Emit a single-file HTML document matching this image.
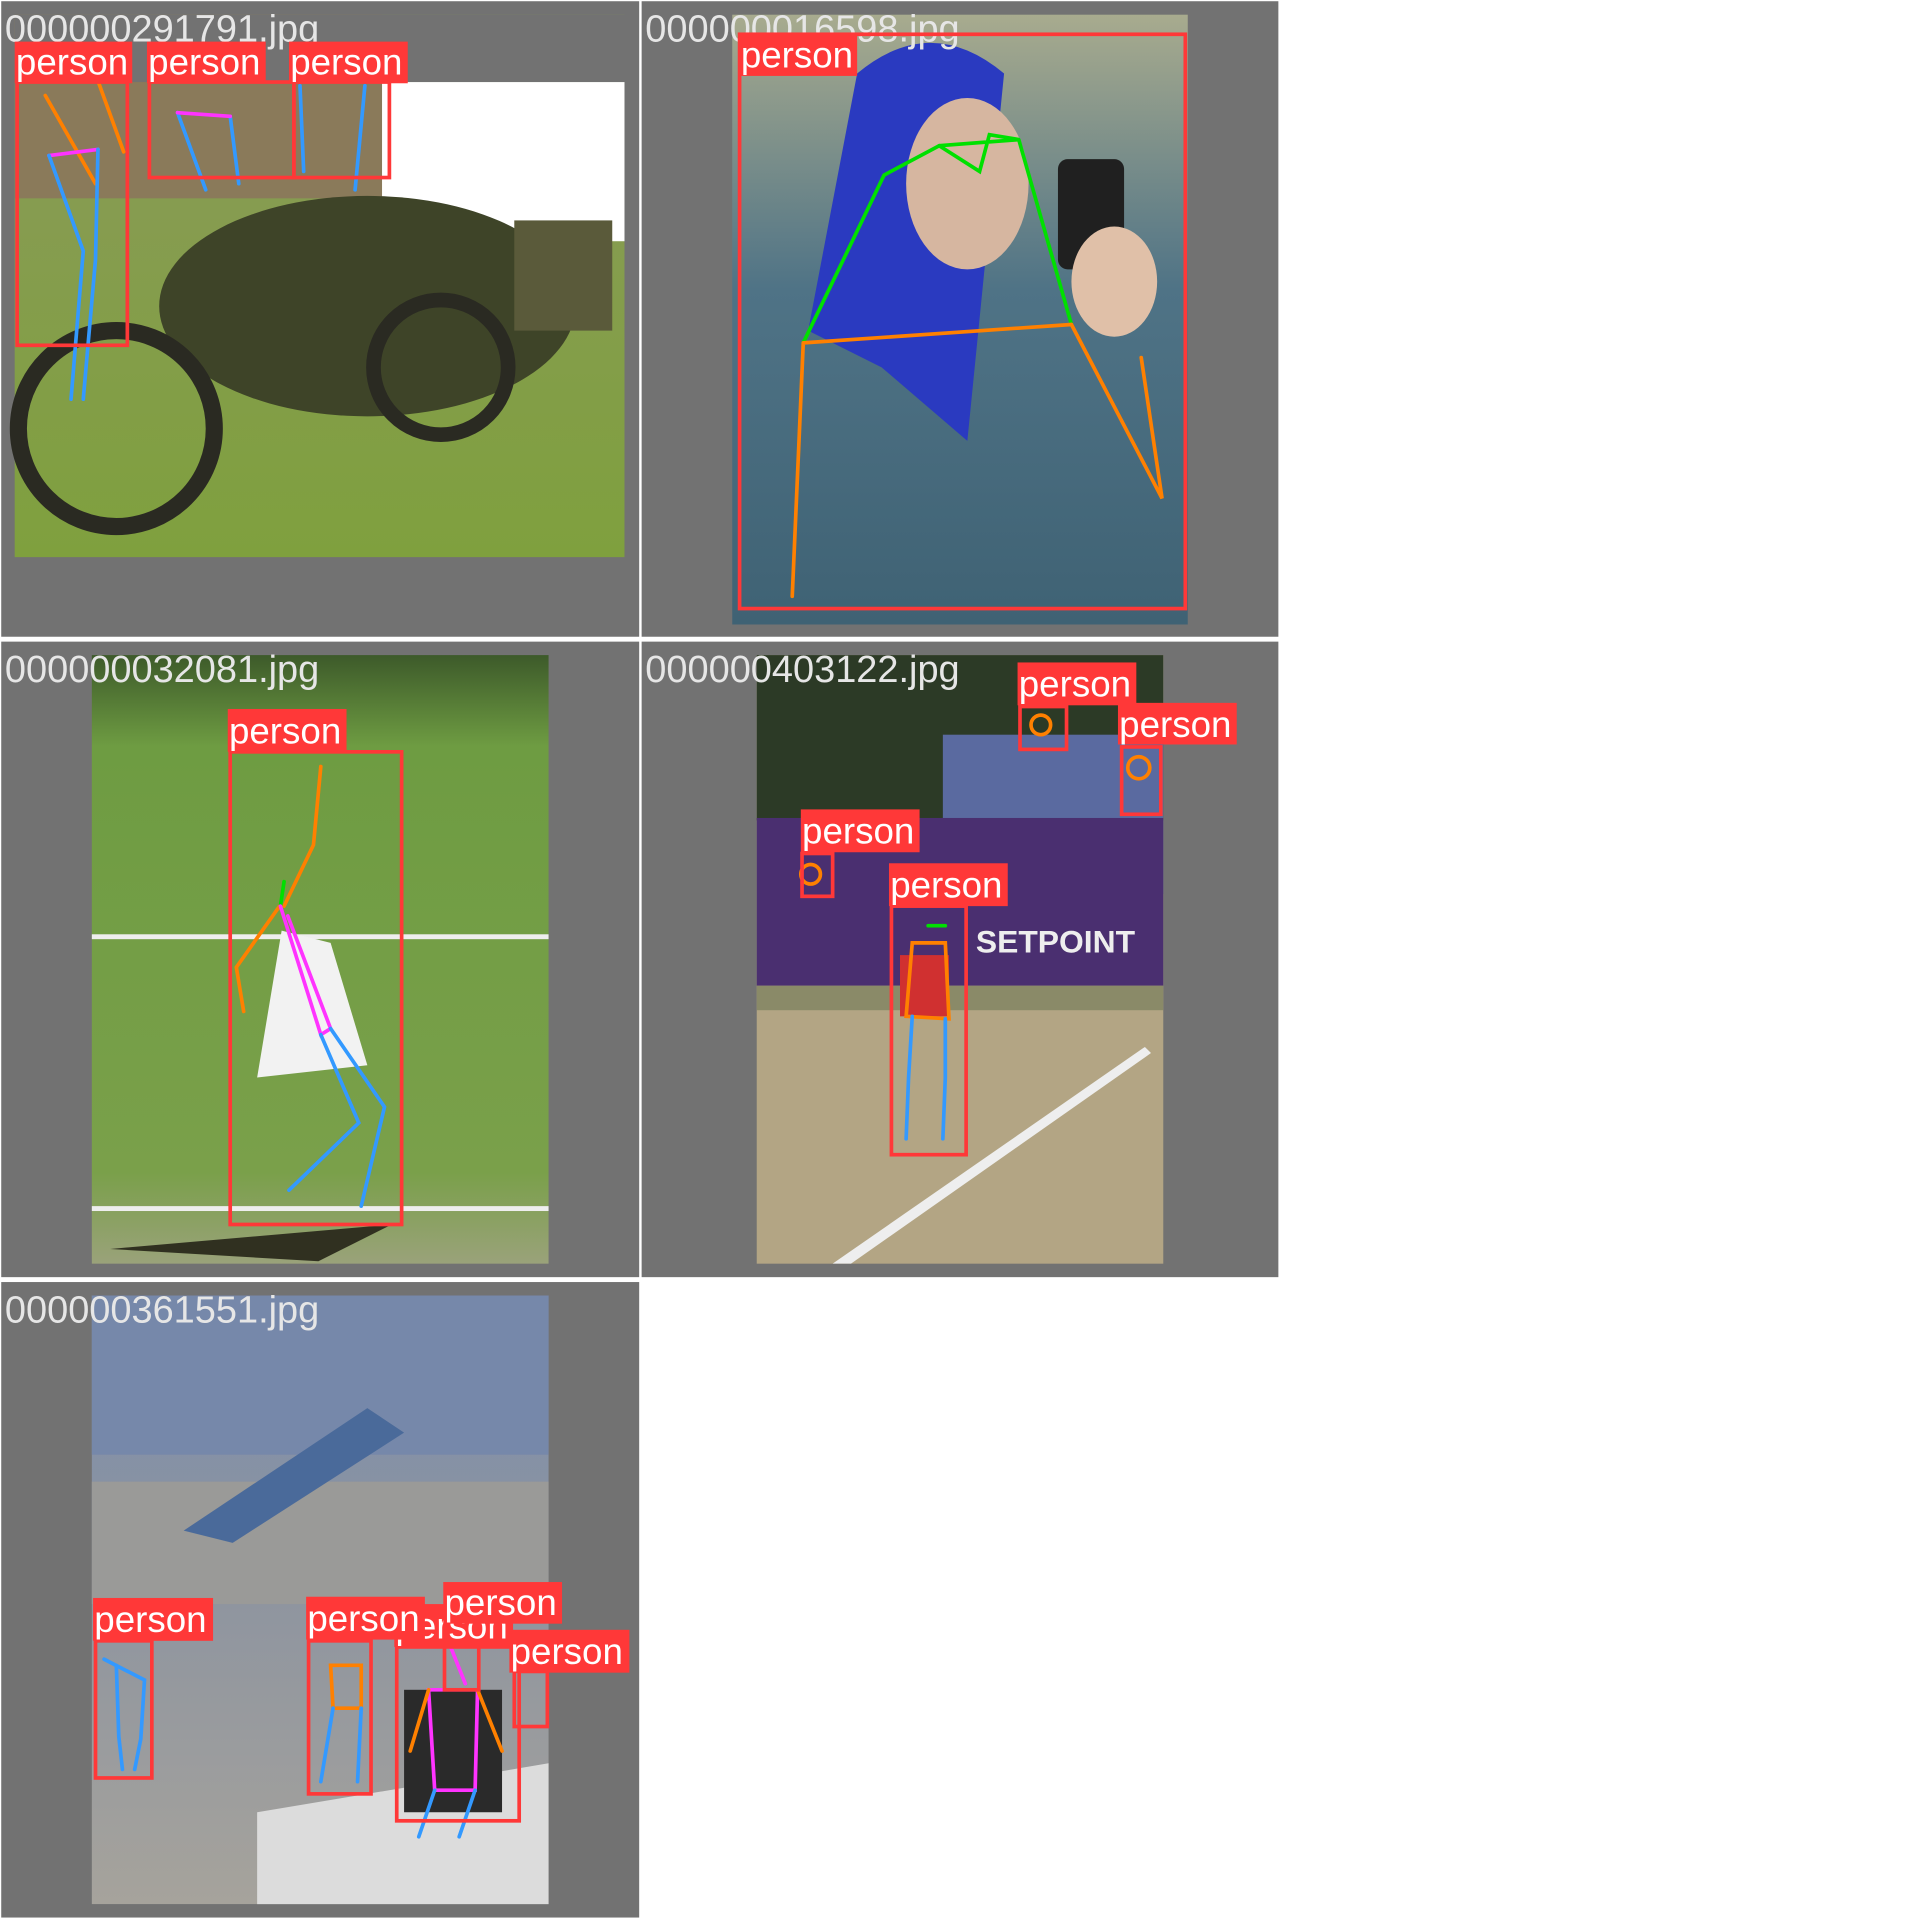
<!DOCTYPE html>
<html><head><meta charset="utf-8"><style>
html,body{margin:0;padding:0;background:#fff;}
svg{display:block;}
text{font-family:"Liberation Sans",sans-serif;}
</style></head><body>
<svg width="1920" height="1920" viewBox="0 0 1568 1568" xmlns="http://www.w3.org/2000/svg">
<defs>
<linearGradient id="g1" x1="0" y1="0" x2="0" y2="1"><stop offset="0" stop-color="#8a9a5a"/><stop offset="1" stop-color="#7fa03e"/></linearGradient>
<linearGradient id="g2" x1="0" y1="0" x2="0" y2="1"><stop offset="0" stop-color="#a8ab8e"/><stop offset="0.45" stop-color="#4f7386"/><stop offset="1" stop-color="#3f6274"/></linearGradient>
<linearGradient id="g3" x1="0" y1="0" x2="0" y2="1"><stop offset="0" stop-color="#3d5a2a"/><stop offset="0.15" stop-color="#6e9c42"/><stop offset="0.85" stop-color="#7aa04a"/><stop offset="1" stop-color="#9aa27a"/></linearGradient>
<linearGradient id="g5" x1="0" y1="0" x2="0" y2="1"><stop offset="0" stop-color="#7d90b0"/><stop offset="0.4" stop-color="#8a92a0"/><stop offset="1" stop-color="#a6a39c"/></linearGradient>
</defs>
<rect x="1" y="1" width="521" height="519" fill="#727272"/>
<rect x="524" y="1" width="520" height="519" fill="#727272"/>
<rect x="1" y="524" width="521" height="519" fill="#727272"/>
<rect x="524" y="524" width="520" height="519" fill="#727272"/>
<rect x="1" y="1047" width="521" height="519" fill="#727272"/>

<g>
<rect x="12" y="12" width="498" height="443" fill="url(#g1)"/>
<rect x="12" y="12" width="300" height="150" fill="#8a7a5a"/>
<rect x="312" y="67" width="198" height="130" fill="#ffffff"/>
<rect x="12" y="12" width="498" height="55" fill="#727272"/>
<ellipse cx="300" cy="250" rx="170" ry="90" fill="#3e4428"/>
<circle cx="95" cy="350" r="80" fill="none" stroke="#2a2a22" stroke-width="14"/>
<circle cx="360" cy="300" r="55" fill="none" stroke="#2a2a22" stroke-width="12"/>
<rect x="420" y="180" width="80" height="90" fill="#5a5a3a"/>
</g>
<g>
<rect x="598" y="12" width="372" height="498" fill="url(#g2)"/>
<path d="M700 60 Q760 10 820 60 L790 360 L720 300 L660 270 Z" fill="#2a3ac0"/>
<ellipse cx="790" cy="150" rx="50" ry="70" fill="#d6b6a0"/>
<rect x="864" y="130" width="54" height="90" rx="8" fill="#202020"/>
<ellipse cx="910" cy="230" rx="35" ry="45" fill="#e0c0a8"/>
</g>
<g>
<rect x="75" y="535" width="373" height="497" fill="url(#g3)"/>
<rect x="75" y="763" width="373" height="4" fill="#eeeeee"/>
<rect x="75" y="985" width="373" height="4" fill="#eeeeee"/>
<path d="M230 760 L270 770 L300 870 L210 880 Z" fill="#f2f2f2"/>
<path d="M90 1020 L320 1000 L260 1030 Z" fill="#303020"/>
</g>
<g>
<rect x="618" y="535" width="332" height="497" fill="#b3a584"/>
<rect x="618" y="535" width="332" height="135" fill="#2c3a26"/>
<rect x="770" y="600" width="180" height="130" fill="#5a6aa0"/>
<rect x="618" y="668" width="332" height="137" fill="#4a2f70"/>
<rect x="618" y="805" width="332" height="20" fill="#8a8a68"/>
<text x="797" y="778" font-size="26" fill="#eeeeee" font-family="Liberation Serif,serif" font-weight="bold">SETPOINT</text>
<path d="M680 1032 L935 855 L940 860 L695 1032 Z" fill="#eeeeee"/>
<rect x="735" y="780" width="40" height="50" fill="#d03030"/>
</g>
<g>
<rect x="75" y="1058" width="373" height="497" fill="url(#g5)"/>
<rect x="75" y="1058" width="373" height="130" fill="#7688aa"/>
<rect x="75" y="1210" width="373" height="100" fill="#9a9a98"/>
<path d="M150 1250 L300 1150 L330 1170 L190 1260 Z" fill="#4a6a9a"/>
<path d="M210 1555 L210 1480 L330 1460 L448 1440 L448 1555 Z" fill="#dcdcdc"/>
<rect x="330" y="1380" width="80" height="100" fill="#2a2a2a"/>
</g>

<g font-size="31" fill="#e6e6e6">
<text x="4" y="34">000000291791.jpg</text>
<text x="527" y="34">000000016598.jpg</text>
<text x="4" y="557">000000032081.jpg</text>
<text x="527" y="557">000000403122.jpg</text>
<text x="4" y="1080">000000361551.jpg</text>
</g>

<g stroke-width="3" fill="none" stroke-linecap="round">
<g>
<path d="M37 78 L78 150 M80 66 L101 124" stroke="#ff8000"/>
<path d="M40 127 L80 122" stroke="#ff33ff"/>
<path d="M40 127 L68 205 L58 326 M80 122 L78 212 L68 326 M145 92 L168 155 M188 95 L195 150 M245 70 L248 140 M298 70 L290 155" stroke="#3399ff"/>
<path d="M145 92 L188 95" stroke="#ff33ff"/>
</g>
<g>
<path d="M722 143 L767 119 L800 140 L808 110 L832 114 L767 119 M656 280 L722 143 M875 265 L832 114" stroke="#00e000"/>
<path d="M656 280 L875 265 M656 280 L647 487 M875 265 L949 407 L932 292" stroke="#ff8000"/>
</g>
<g>
<path d="M262 626 L256 690 L232 740 M229 739 L193 790 L199 826" stroke="#ff8000"/>
<path d="M232 720 L229 740" stroke="#00e000"/>
<path d="M229 740 L262 845 L270 840 L235 748" stroke="#ff33ff"/>
<path d="M262 845 L293 917 L236 972 M270 840 L314 904 L295 985" stroke="#3399ff"/>
</g>
<g>
<path d="M745 770 L740 830 L775 832 L772 770 Z" stroke="#ff8000"/>
<path d="M745 830 L742 880 L740 930 M772 832 L772 880 L770 930" stroke="#3399ff"/>
<path d="M758 756 L772 756" stroke="#00e000"/>
<circle cx="850" cy="592" r="8" stroke="#ff8000"/>
<circle cx="930" cy="627" r="9" stroke="#ff8000"/>
<circle cx="662" cy="714" r="8" stroke="#ff8000"/>
</g>
<g>
<path d="M85 1355 L118 1372 L115 1420 M95 1360 L97 1418 L100 1445 M115 1420 L110 1445" stroke="#3399ff"/>
<path d="M270 1360 L295 1360 L295 1395 L272 1395 Z" stroke="#ff8000"/>
<path d="M272 1395 L262 1455 M295 1395 L292 1455" stroke="#3399ff"/>
<path d="M350 1380 L390 1380 L388 1462 L355 1462 Z" stroke="#ff33ff"/>
<path d="M350 1380 L335 1430 M390 1380 L410 1430" stroke="#ff8000"/>
<path d="M355 1462 L342 1500 M388 1462 L375 1500" stroke="#3399ff"/>
<path d="M368 1345 L380 1375" stroke="#ff33ff"/>
</g>
</g>

<g fill="none" stroke="#ff3838" stroke-width="3">
<rect x="14" y="67" width="90" height="215"/>
<rect x="122" y="67" width="118" height="78"/>
<rect x="240" y="67" width="78" height="78"/>
<rect x="604" y="28" width="364" height="469"/>
<rect x="188" y="614" width="140" height="386"/>
<rect x="833" y="577" width="38" height="35"/>
<rect x="916" y="610" width="32" height="55"/>
<rect x="655" y="697" width="25" height="35"/>
<rect x="728" y="740" width="61" height="203"/>
<rect x="78" y="1340" width="46" height="112"/>
<rect x="252" y="1340" width="51" height="125"/>
<rect x="324" y="1345" width="100" height="142"/>
<rect x="363" y="1327" width="28" height="53"/>
<rect x="420" y="1365" width="27" height="45"/>
</g>

<g font-size="30" fill="#ffffff">
<g><rect x="12" y="34" width="96" height="34" fill="#ff3838"/><text x="13" y="61">person</text></g>
<g><rect x="120" y="34" width="97" height="34" fill="#ff3838"/><text x="121" y="61">person</text></g>
<g><rect x="236" y="34" width="97" height="34" fill="#ff3838"/><text x="237" y="61">person</text></g>
<g><rect x="604" y="28" width="96" height="34" fill="#ff3838"/><text x="605" y="55">person</text></g>
<g><rect x="186" y="579" width="97" height="35" fill="#ff3838"/><text x="187" y="607">person</text></g>
<g><rect x="831" y="541" width="97" height="35" fill="#ff3838"/><text x="832" y="569">person</text></g>
<g><rect x="913" y="574" width="97" height="34" fill="#ff3838"/><text x="914" y="602">person</text></g>
<g><rect x="654" y="661" width="97" height="35" fill="#ff3838"/><text x="655" y="689">person</text></g>
<g><rect x="726" y="705" width="97" height="35" fill="#ff3838"/><text x="727" y="733">person</text></g>
<g><rect x="76" y="1305" width="98" height="35" fill="#ff3838"/><text x="77" y="1333">person</text></g>
<g><rect x="322" y="1310" width="97" height="35" fill="#ff3838"/><text x="323" y="1338">person</text></g>
<g><rect x="250" y="1304" width="97" height="35" fill="#ff3838"/><text x="251" y="1332">person</text></g>
<g><rect x="362" y="1292" width="97" height="34" fill="#ff3838"/><text x="363" y="1319">person</text></g>
<g><rect x="416" y="1331" width="98" height="35" fill="#ff3838"/><text x="417" y="1359">person</text></g>
</g>
</svg>
</body></html>
